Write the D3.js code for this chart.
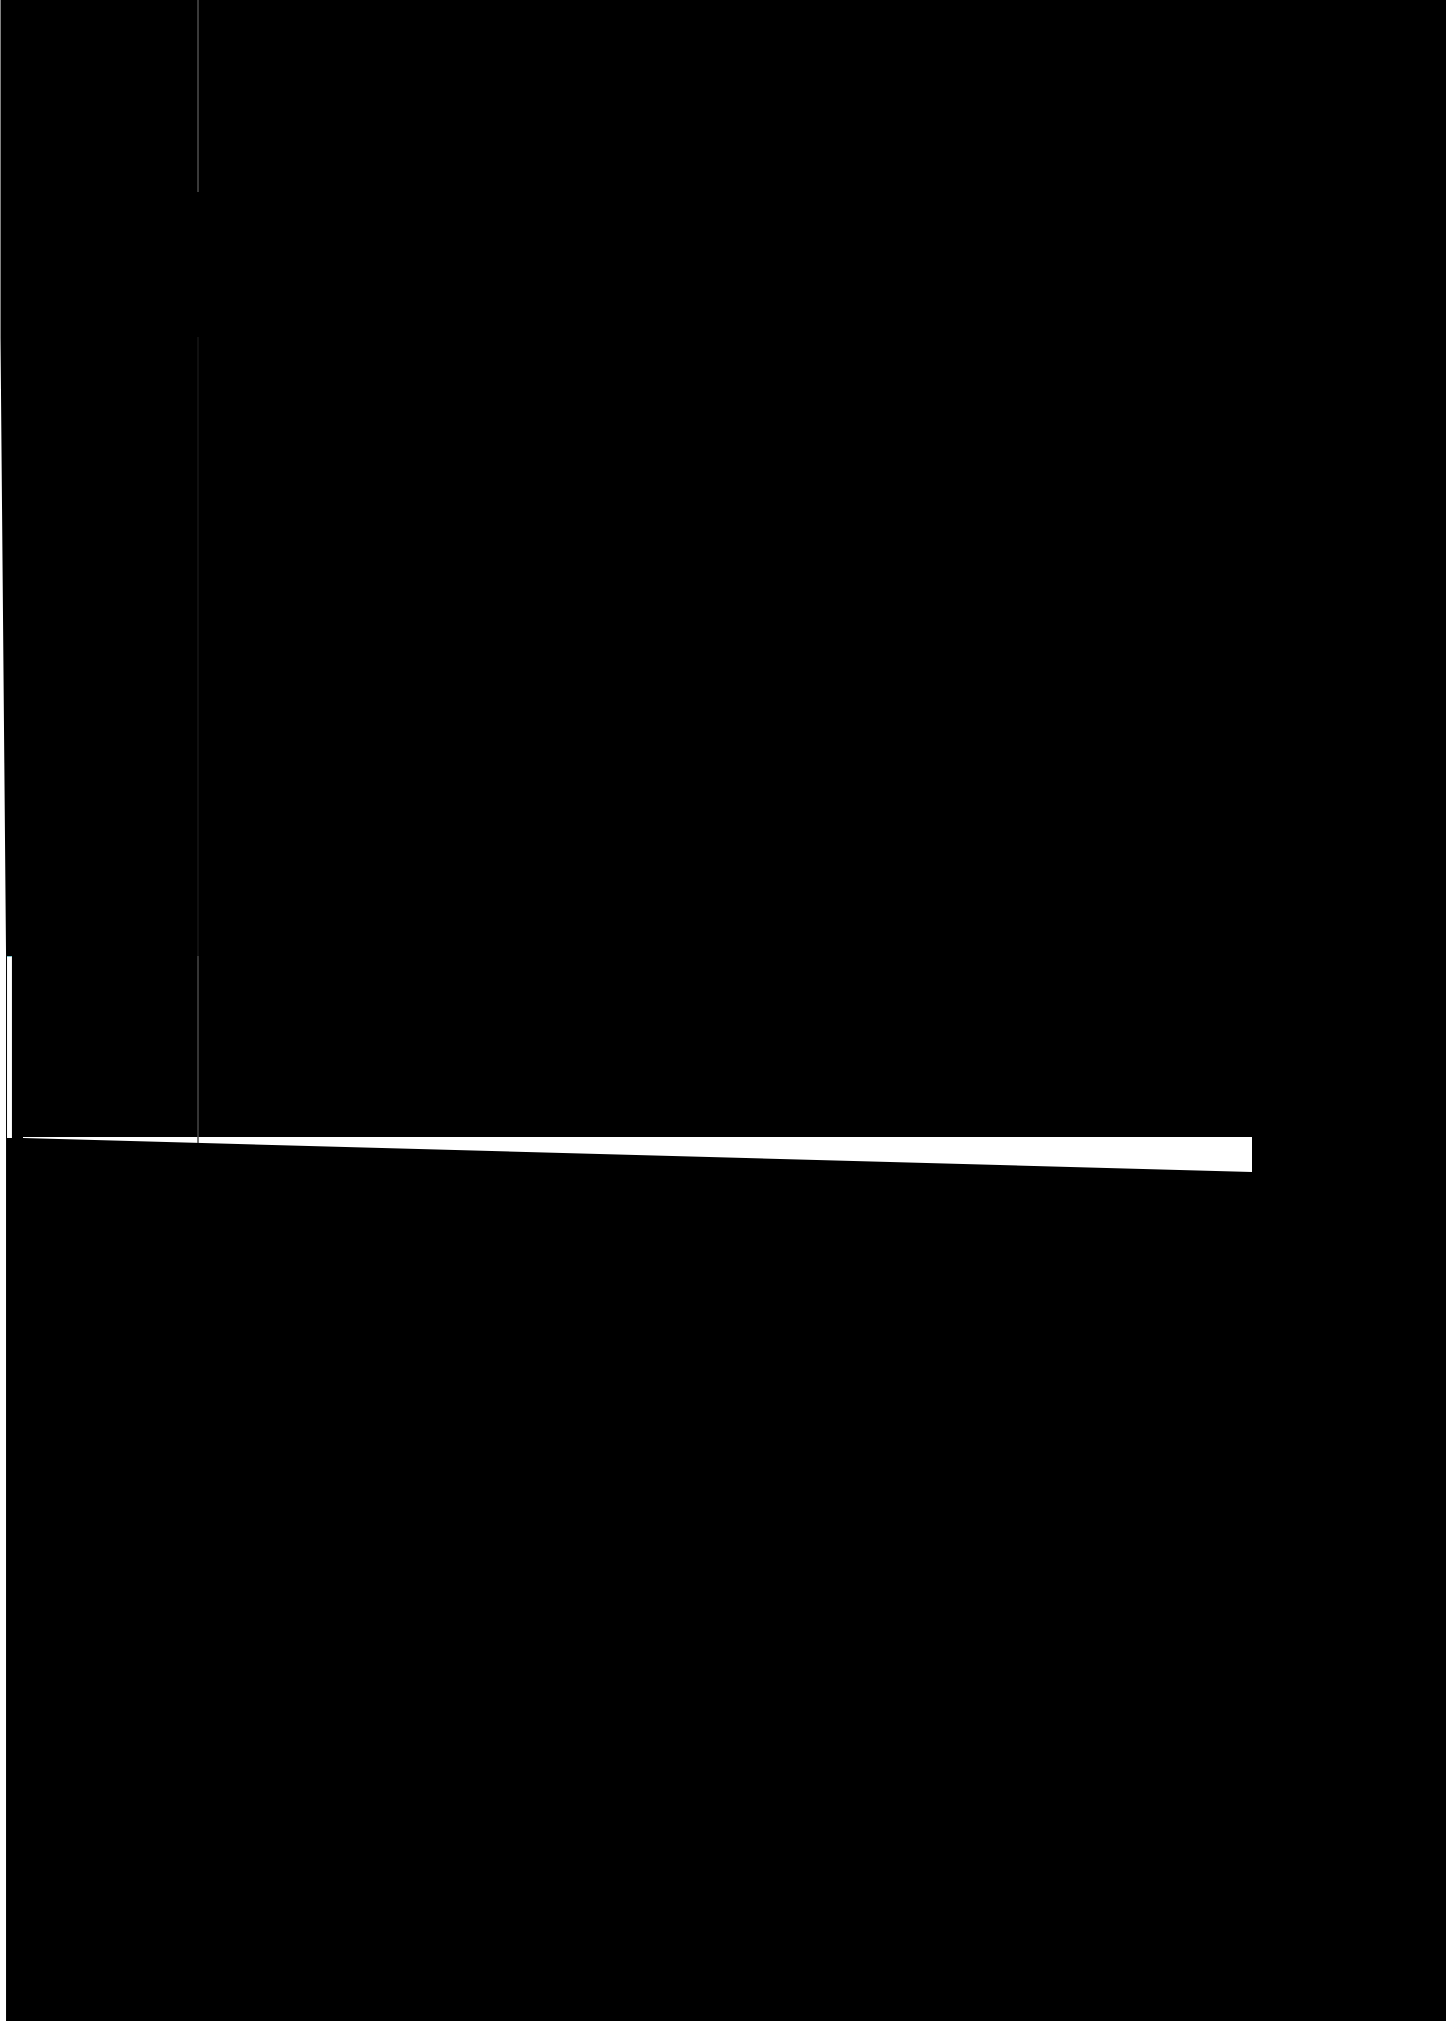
<!DOCTYPE html>
<html>
<head>
<meta charset="utf-8">
<script src="https://cdn.jsdelivr.net/npm/d3@7"></script>
<style>
  html, body { margin: 0; padding: 0; background: #fff; overflow: hidden; }
  svg { display: block; }
</style>
</head>
<body>
<div id="chart"></div>
<script>
// chart units: x 0..100 across the plot, y 0..100 upward from the baseline
var edgeX = [-1.83, -1.83, -1.38, -1.38];      // left boundary of the filled area
var edgeY = [113.7, 79.9, 18.2, -88.4];
var fillRightX = 115.8;

var bandX = [0, 100];                           // light band along the baseline
var bandTop = [0, 0];
var bandBottom = [-0.1, -3.5];

var barX = [-1.30, -0.90];                      // thin bar at the left
var barY = [18.1, -0.1];

var ruleX = 14.24;                              // vertical rule segments
var ruleFrom = [113.7, 80.0, 18.1];
var ruleTo = [94.5, 18.1, -0.6];
var ruleShade = ["#4d4d4d", "#161616", "#474747"];

function draw() {
    var width = 1446;
    var height = 2021;

    var x = d3.scaleLinear().domain([0, 100]).range([23, 1252]);
    var y = d3.scaleLinear().domain([0, 100]).range([1137, 137]);

    var svg = d3.select("#chart")
        .append("svg")
        .attr("width", width)
        .attr("height", height);

    // big filled area (no fill colour set -> black)
    var pts = edgeX.map(function(d, i) { return [x(d), y(edgeY[i])]; });
    pts.push([x(fillRightX), y(edgeY[edgeY.length - 1])]);
    pts.push([x(fillRightX), y(edgeY[0])]);
    svg.append("path")
        .attr("d", d3.line()(pts) + "Z")
        .attr("fill", "#000");

    // band
    var band = bandX.map(function(d, i) { return { x: d, y0: bandBottom[i], y1: bandTop[i] }; });
    svg.append("path")
        .datum(band)
        .attr("fill", "#fff")
        .attr("d", d3.area()
            .x(function(d) { return x(d.x); })
            .y0(function(d) { return y(d.y0); })
            .y1(function(d) { return y(d.y1); }));

    // thin bar
    svg.append("rect")
        .attr("x", x(barX[0]))
        .attr("y", y(barY[0]))
        .attr("width", x(barX[1]) - x(barX[0]))
        .attr("height", y(barY[1]) - y(barY[0]))
        .attr("fill", "#fff");
    svg.append("rect")
        .attr("x", x(barX[0]))
        .attr("y", y(barY[0]))
        .attr("width", x(barX[1]) - x(barX[0]))
        .attr("height", 1)
        .attr("fill", "#7cc4cc");

    // rule
    svg.selectAll("line.rule")
        .data(ruleFrom)
        .enter()
        .append("line")
        .attr("class", "rule")
        .attr("x1", x(ruleX))
        .attr("x2", x(ruleX))
        .attr("y1", function(d) { return y(d); })
        .attr("y2", function(d, i) { return y(ruleTo[i]); })
        .attr("stroke", function(d, i) { return ruleShade[i]; })
        .attr("stroke-width", 1.5);
}

draw();
</script>
</body>
</html>
